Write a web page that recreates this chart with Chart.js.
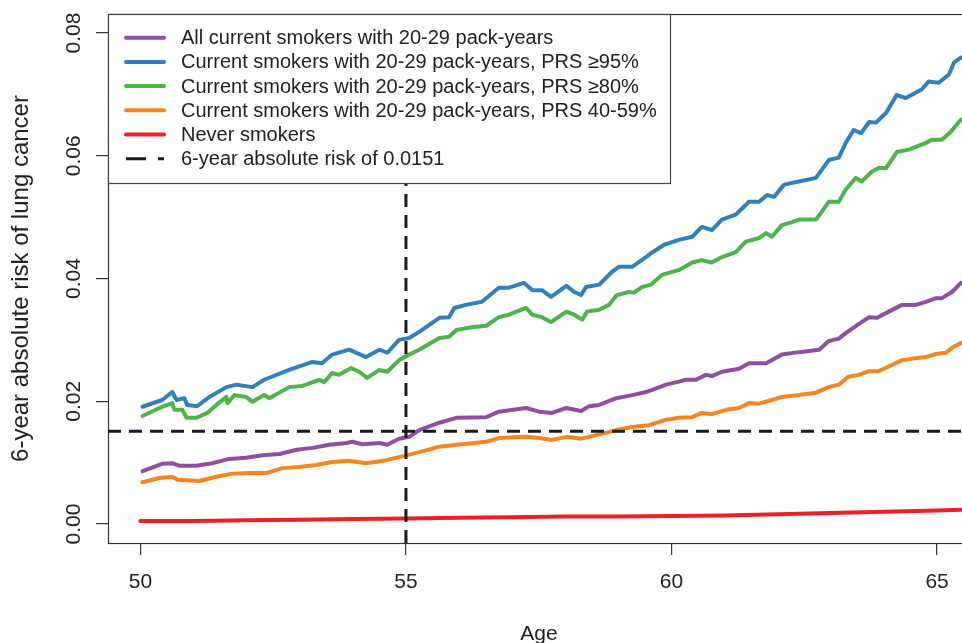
<!DOCTYPE html>
<html><head><meta charset="utf-8">
<script src="https://cdn.jsdelivr.net/npm/chart.js@4/dist/chart.umd.min.js"></script>
<style>html,body{margin:0;padding:0;overflow:hidden;background:#fff;width:962px;height:643px}canvas{display:block}</style>
</head><body><canvas id="c" width="980" height="643"></canvas>
<script>
// ---- data ----
const xTicks = [50, 55, 60, 65];
const yTicks = [0, 0.02, 0.04, 0.06, 0.08];
const yTickLabels = ['0.00', '0.02', '0.04', '0.06', '0.08'];
const seriesLabels = [
  'All current smokers with 20-29 pack-years',
  'Current smokers with 20-29 pack-years, PRS \u226595%',
  'Current smokers with 20-29 pack-years, PRS \u226580%',
  'Current smokers with 20-29 pack-years, PRS 40-59%',
  'Never smokers',
  '6-year absolute risk of 0.0151'
];
const refRisk = 0.0151;
const refAge = 55;

const allAges = [50.04,50.41,50.60,50.73,51.05,51.35,51.67,51.99,52.30,52.62,52.94,53.24,53.56,53.88,53.99,54.18,54.50,54.65,54.87,55.06,55.25,55.63,55.95,56.51,56.75,57.26,57.51,57.75,58.02,58.30,58.45,58.64,58.96,59.26,59.52,59.90,60.14,60.27,60.46,60.65,60.76,60.95,61.27,61.46,61.78,61.89,62.08,62.40,62.78,62.96,63.15,63.28,63.53,63.72,63.87,64.09,64.34,64.60,64.79,64.98,65.09,65.28,65.45];
const allRisk = [0.0086,0.0098,0.0099,0.0095,0.0095,0.0099,0.0106,0.0108,0.0112,0.0114,0.0121,0.0124,0.0129,0.0132,0.0134,0.0130,0.0132,0.0129,0.0139,0.0142,0.0153,0.0165,0.0173,0.0174,0.0183,0.0189,0.0183,0.0181,0.0189,0.0184,0.0192,0.0194,0.0205,0.0210,0.0215,0.0227,0.0232,0.0235,0.0235,0.0243,0.0241,0.0248,0.0253,0.0262,0.0262,0.0267,0.0276,0.0280,0.0284,0.0298,0.0302,0.0311,0.0326,0.0337,0.0336,0.0346,0.0357,0.0357,0.0362,0.0368,0.0368,0.0378,0.0393];

const prs95Ages = [50.04,50.41,50.60,50.68,50.83,50.88,51.07,51.30,51.62,51.81,52.11,52.33,52.80,53.24,53.42,53.61,53.93,54.25,54.50,54.65,54.87,55.06,55.25,55.63,55.81,55.91,56.13,56.43,56.75,56.94,57.22,57.38,57.56,57.73,58.02,58.17,58.30,58.39,58.64,58.88,59.01,59.26,59.52,59.63,59.86,60.14,60.39,60.57,60.76,60.95,61.21,61.46,61.65,61.80,61.93,62.12,62.40,62.72,62.83,62.96,63.15,63.28,63.43,63.57,63.72,63.85,64.04,64.24,64.41,64.71,64.84,65.03,65.22,65.32,65.45];
const prs95Risk = [0.0191,0.0202,0.0215,0.0202,0.0205,0.0194,0.0192,0.0207,0.0223,0.0227,0.0223,0.0235,0.0251,0.0264,0.0262,0.0276,0.0284,0.0272,0.0284,0.0279,0.0300,0.0303,0.0313,0.0336,0.0337,0.0352,0.0357,0.0362,0.0385,0.0385,0.0393,0.0381,0.0381,0.0370,0.0388,0.0378,0.0373,0.0386,0.0390,0.0411,0.0419,0.0419,0.0435,0.0442,0.0455,0.0463,0.0468,0.0484,0.0479,0.0496,0.0504,0.0525,0.0525,0.0536,0.0533,0.0553,0.0558,0.0564,0.0577,0.0593,0.0597,0.0621,0.0642,0.0637,0.0655,0.0654,0.0670,0.0699,0.0694,0.0708,0.0721,0.0719,0.0732,0.0752,0.0760];

const prs80Ages = [50.04,50.36,50.60,50.64,50.79,50.87,51.05,51.26,51.43,51.62,51.64,51.77,51.99,52.11,52.33,52.43,52.80,53.05,53.37,53.46,53.61,53.74,53.97,54.12,54.27,54.50,54.65,54.87,55.06,55.25,55.63,55.81,55.95,56.19,56.51,56.75,56.94,57.26,57.38,57.56,57.73,58.02,58.17,58.32,58.41,58.64,58.82,58.97,59.20,59.29,59.44,59.61,59.82,60.14,60.39,60.57,60.76,60.95,61.21,61.40,61.65,61.78,61.89,62.08,62.27,62.40,62.72,62.83,62.96,63.15,63.28,63.47,63.58,63.77,63.90,64.04,64.24,64.47,64.79,64.90,65.09,65.26,65.45];
const prs80Risk = [0.0176,0.0189,0.0197,0.0186,0.0186,0.0173,0.0173,0.0181,0.0194,0.0207,0.0197,0.0210,0.0207,0.0199,0.0210,0.0205,0.0223,0.0225,0.0235,0.0231,0.0246,0.0243,0.0254,0.0248,0.0238,0.0251,0.0248,0.0267,0.0276,0.0284,0.0303,0.0305,0.0316,0.0320,0.0323,0.0337,0.0341,0.0352,0.0341,0.0337,0.0329,0.0346,0.0341,0.0333,0.0346,0.0349,0.0357,0.0373,0.0378,0.0377,0.0386,0.0390,0.0406,0.0414,0.0426,0.0430,0.0426,0.0435,0.0443,0.0460,0.0466,0.0474,0.0468,0.0487,0.0492,0.0496,0.0496,0.0509,0.0525,0.0525,0.0545,0.0564,0.0558,0.0574,0.0580,0.0580,0.0606,0.0610,0.0621,0.0626,0.0626,0.0639,0.0659];

const prs40Ages = [50.04,50.36,50.60,50.70,51.11,51.43,51.73,52.05,52.37,52.67,52.99,53.31,53.61,53.93,54.25,54.63,54.87,55.25,55.63,55.95,56.51,56.75,57.26,57.51,57.75,58.02,58.30,58.45,58.96,59.26,59.58,59.90,60.14,60.39,60.57,60.76,61.03,61.27,61.46,61.65,61.89,62.08,62.40,62.72,62.96,63.15,63.33,63.53,63.72,63.90,64.15,64.34,64.66,64.79,64.98,65.17,65.28,65.45];
const prs40Risk = [0.0068,0.0075,0.0077,0.0072,0.0070,0.0077,0.0082,0.0083,0.0083,0.0091,0.0093,0.0096,0.0101,0.0103,0.0099,0.0104,0.0109,0.0117,0.0126,0.0129,0.0134,0.0140,0.0142,0.0140,0.0137,0.0142,0.0139,0.0142,0.0153,0.0158,0.0161,0.0170,0.0173,0.0174,0.0181,0.0179,0.0186,0.0189,0.0197,0.0196,0.0202,0.0207,0.0210,0.0214,0.0223,0.0227,0.0240,0.0243,0.0249,0.0249,0.0259,0.0267,0.0271,0.0272,0.0277,0.0279,0.0287,0.0295];

const neverAges = [50,51,52,53,54,55,56,57,58,59,60,61,62,63,64,65,65.45];
const neverRisk = [0.0005,0.0005,0.0006,0.0007,0.0008,0.0009,0.0010,0.0011,0.0012,0.0012,0.0013,0.0014,0.0016,0.0018,0.0020,0.0022,0.0023];

// ---- chart ----
const FONT = '"Liberation Sans", Arial, Helvetica, sans-serif';
const X_MIN = 49.39, X_MAX = 65.62, Y_MIN = -0.0031, Y_MAX = 0.0831;
const toPts = (a, v) => a.map((x, i) => ({ x, y: v[i] }));
const colors = ['#8E4FA1', '#3180BD', '#4DB44A', '#F7851F', '#EA1F27', '#1a1a1a'];

const line = (i, pts, extra) => Object.assign({
  label: seriesLabels[i], data: pts, borderColor: colors[i], backgroundColor: colors[i],
  borderWidth: 4, pointRadius: 0, tension: 0, fill: false, borderCapStyle: 'round', borderJoinStyle: 'round'
}, extra || {});

const datasets = [
  line(5, [{ x: X_MIN, y: refRisk }, { x: X_MAX, y: refRisk }], { borderWidth: 3, borderDash: [13, 8], borderCapStyle: 'butt' }),
  line(5, [{ x: refAge, y: Y_MIN }, { x: refAge, y: Y_MAX }], { borderWidth: 3, borderDash: [13, 8], borderCapStyle: 'butt' }),
  line(4, toPts(neverAges, neverRisk)),
  line(3, toPts(prs40Ages, prs40Risk)),
  line(0, toPts(allAges, allRisk)),
  line(2, toPts(prs80Ages, prs80Risk)),
  line(1, toPts(prs95Ages, prs95Risk))
];

const decor = {
  id: 'decor',
  afterDraw(chart) {
    const { ctx, chartArea: a, scales: { y } } = chart;
    ctx.save();
    // plot box
    ctx.strokeStyle = '#333'; ctx.lineWidth = 1.2; ctx.setLineDash([]);
    ctx.strokeRect(a.left + 0.5, a.top + 0.5, a.right - a.left, a.bottom - a.top);
    // y tick labels (rotated)
    ctx.fillStyle = '#222'; ctx.font = '21px ' + FONT;
    ctx.textAlign = 'center'; ctx.textBaseline = 'alphabetic';
    yTicks.forEach((v, i) => {
      const py = y.getPixelForValue(v);
      ctx.save(); ctx.translate(80, py); ctx.rotate(-Math.PI / 2);
      ctx.fillText(yTickLabels[i], 0, 0); ctx.restore();
    });
    // y title
    ctx.font = '24px ' + FONT;
    ctx.save(); ctx.translate(27.5, (a.top + a.bottom) / 2); ctx.rotate(-Math.PI / 2);
    ctx.fillText('6-year absolute risk of lung cancer', 0, 0); ctx.restore();
    // x title
    ctx.font = '21px ' + FONT;
    ctx.fillText('Age', (a.left + a.right) / 2, 640);
    // legend
    const lx = a.left, ly = a.top, lw = 562, lh = 169;
    ctx.fillStyle = '#fff'; ctx.fillRect(lx, ly, lw, lh);
    ctx.strokeStyle = '#444'; ctx.lineWidth = 1.2;
    ctx.strokeRect(lx + 0.5, ly + 0.5, lw, lh);
    ctx.font = '20px ' + FONT; ctx.textAlign = 'left'; ctx.textBaseline = 'middle';
    seriesLabels.forEach((lab, i) => {
      const yy = ly + 23.7 + 24.2 * i;
      ctx.strokeStyle = colors[i];
      if (i === 5) { ctx.lineWidth = 3; ctx.setLineDash([20, 12]); ctx.lineCap = 'butt'; }
      else { ctx.lineWidth = 4; ctx.setLineDash([]); ctx.lineCap = 'round'; }
      ctx.beginPath(); ctx.moveTo(lx + 18, yy); ctx.lineTo(lx + 56, yy); ctx.stroke();
      ctx.fillStyle = '#222';
      ctx.fillText(lab, lx + 73, yy + 1);
    });
    ctx.restore();
  }
};

new Chart(document.getElementById('c'), {
  type: 'line',
  data: { datasets },
  options: {
    responsive: false, animation: false, devicePixelRatio: 1,
    layout: { padding: { left: 0, top: 14, right: 10, bottom: 0 } },
    plugins: { legend: { display: false }, tooltip: { enabled: false } },
    scales: {
      x: {
        type: 'linear', min: X_MIN, max: X_MAX,
        afterBuildTicks: s => { s.ticks = xTicks.map(v => ({ value: v })); },
        afterFit: s => { s.height = 100; },
        border: { display: false },
        grid: { drawOnChartArea: false, drawTicks: true, tickLength: 12, color: '#333', lineWidth: 1.2 },
        ticks: { font: { size: 21, family: FONT }, color: '#222', padding: 15, maxRotation: 0, autoSkip: false, callback: v => String(v) }
      },
      y: {
        type: 'linear', min: Y_MIN, max: Y_MAX,
        afterBuildTicks: s => { s.ticks = yTicks.map(v => ({ value: v })); },
        afterFit: s => { s.width = 108; },
        border: { display: false },
        grid: { drawOnChartArea: false, drawTicks: true, tickLength: 12, color: '#333', lineWidth: 1.2 },
        ticks: { display: false }
      }
    }
  },
  plugins: [decor]
});
</script>
</body></html>
